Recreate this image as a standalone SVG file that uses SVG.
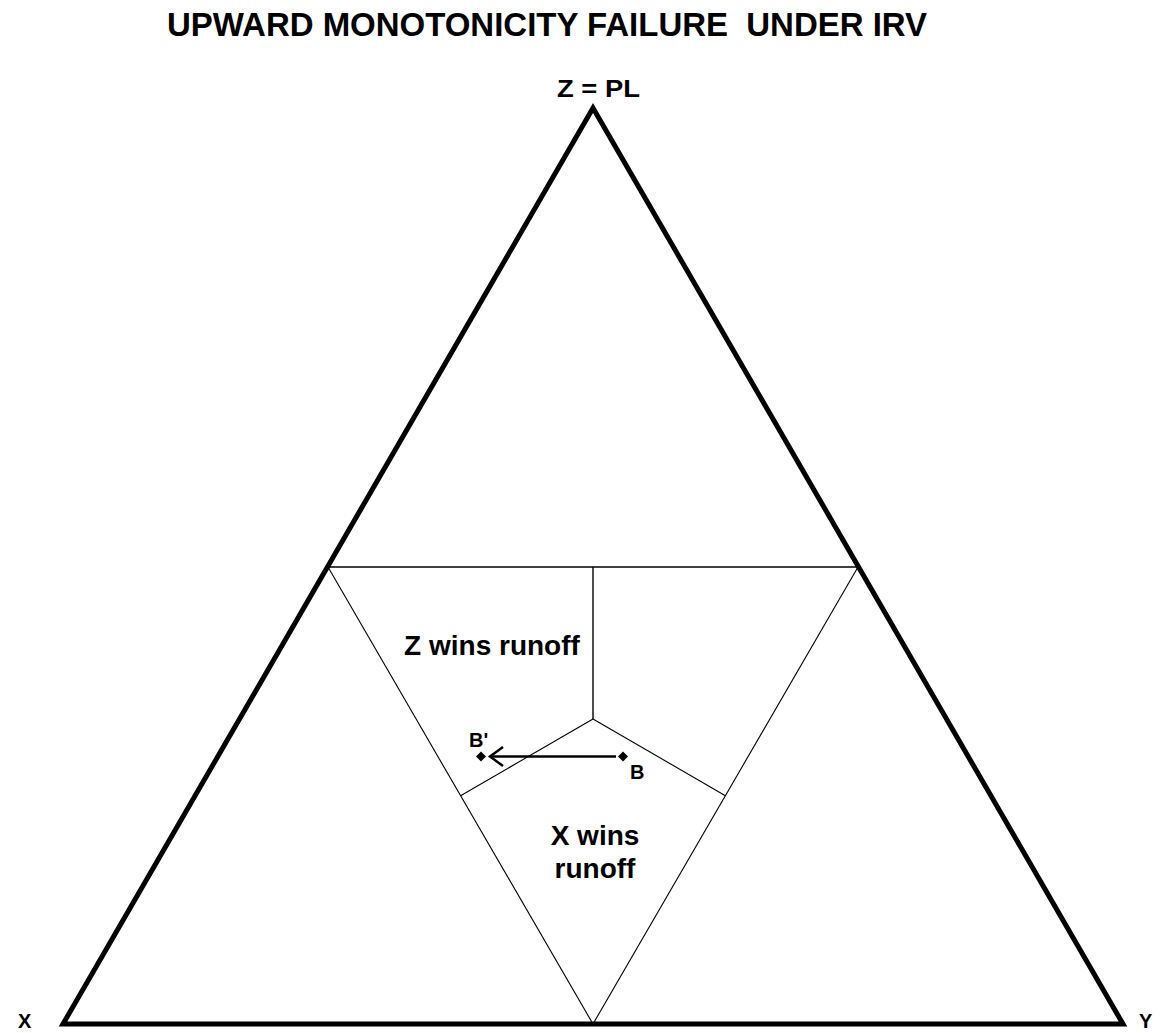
<svg xmlns="http://www.w3.org/2000/svg" width="1171" height="1033" viewBox="0 0 1171 1033">
  <style>
    text { font-family: "Liberation Sans", Arial, sans-serif; fill: #000; }
    .title { font-size: 33px; font-weight: bold; white-space: pre; }
    .vertex { font-size: 24px; font-weight: bold; }
    .corner { font-size: 20px; font-weight: bold; }
    .region { font-size: 28px; font-weight: bold; text-anchor: middle; }
    .point { font-size: 20px; font-weight: bold; }
    .edge { fill: none; stroke: #000; stroke-width: 5; stroke-linejoin: miter; }
    .divider { fill: none; stroke: #000; stroke-width: 1.4; }
    .thin { fill: none; stroke: #000; stroke-width: 1.1; }
    .move { fill: none; stroke: #000; stroke-width: 2.5; }
  </style>
  <rect width="1171" height="1033" fill="#fff"/>

  <text class="title" x="167" y="36" textLength="760" lengthAdjust="spacingAndGlyphs">UPWARD MONOTONICITY FAILURE  UNDER IRV</text>

  <!-- simplex outline -->
  <g id="simplex">
    <path class="edge" d="M593,108 L63,1024 L1123,1024 Z"/>
  </g>

  <!-- vertex labels -->
  <g id="vertex-z"><text class="vertex" x="557" y="97" textLength="83" lengthAdjust="spacingAndGlyphs">Z = PL</text></g>
  <g id="vertex-x"><text class="corner" x="18" y="1028">X</text></g>
  <g id="vertex-y"><text class="corner" x="1139" y="1028">Y</text></g>

  <!-- region boundaries -->
  <g id="boundaries">
    <line class="divider" x1="328" y1="567" x2="858" y2="567"/>
    <line class="divider" x1="593" y1="567" x2="593" y2="719"/>
    <line class="thin" x1="328" y1="567" x2="593" y2="1024"/>
    <line class="thin" x1="858" y1="567" x2="593" y2="1024"/>
    <line class="thin" x1="593" y1="719" x2="460.6" y2="795.7"/>
    <line class="thin" x1="593" y1="719" x2="725.4" y2="795.7"/>
  </g>

  <!-- region labels -->
  <g id="z-wins"><text class="region" x="492" y="655">Z wins runoff</text></g>
  <g id="x-wins">
    <text class="region" x="595" y="845">X wins</text>
    <text class="region" x="595" y="878">runoff</text>
  </g>

  <!-- profile points -->
  <g id="point-b">
    <path d="M623,751.5 L628,756.5 L623,761.5 L618,756.5 Z" fill="#000"/>
    <text class="point" x="630" y="779">B</text>
  </g>
  <g id="point-b-prime">
    <path d="M481,751.5 L486,756.5 L481,761.5 L476,756.5 Z" fill="#000"/>
    <text class="point" x="469" y="747">B'</text>
  </g>

  <!-- shift from B to B' -->
  <g id="connectors">
    <line class="move" x1="616" y1="756.5" x2="491" y2="756.5"/>
    <path class="move" d="M503,747 L490,756.5 L503,766"/>
  </g>
</svg>
